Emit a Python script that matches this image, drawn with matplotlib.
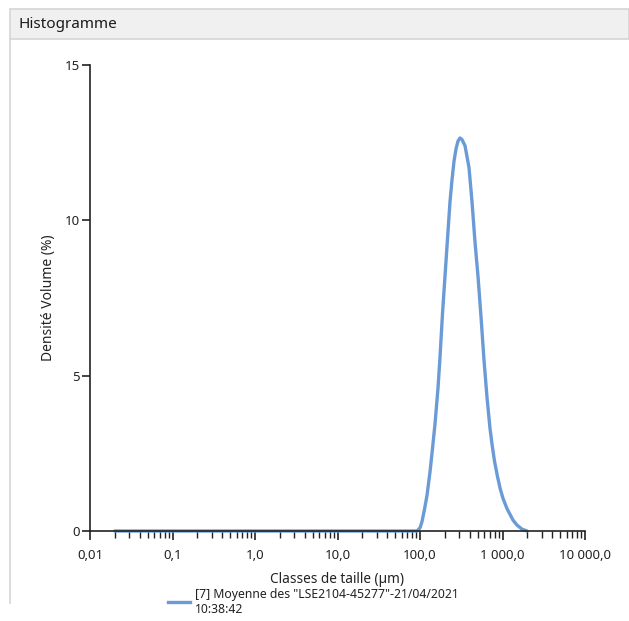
import matplotlib
matplotlib.use("Agg")
from matplotlib import pyplot as plt
from matplotlib.patches import Rectangle
from matplotlib.lines import Line2D
import numpy as np

plt.rcParams['font.family'] = ['Noto Sans', 'DejaVu Sans']

# size classes (um) and volume density (%)
sizes = [0.02, 0.05, 0.1, 0.5, 1.0, 5.0, 10.0, 50.0, 92.0, 100.0, 105.7, 113.4, 121.6,
         132.2, 139.8, 152.0, 165.3, 174.8, 187.4, 200.9, 215.4, 231.0, 244.3, 258.3,
         273.2, 288.8, 305.4, 322.9, 351.2, 392.6, 426.9, 464.2, 504.7, 548.8, 596.8,
         648.9, 705.6, 750.0, 800.0, 870.0, 940.0, 1014.0, 1134.0, 1341.0, 1499.0,
         1723.0, 1982.0]
density = [0, 0, 0, 0, 0, 0, 0, 0, 0.0, 0.1, 0.3, 0.7, 1.15,
           1.9, 2.5, 3.45, 4.6, 5.6, 7.0, 8.2, 9.4, 10.6, 11.3, 11.9,
           12.3, 12.55, 12.65, 12.6, 12.4, 11.7, 10.6, 9.3, 8.2, 6.9, 5.5,
           4.3, 3.3, 2.75, 2.25, 1.75, 1.35, 1.05, 0.72, 0.35, 0.19,
           0.06, 0.0]

xticks = [0.01, 0.1, 1.0, 10.0, 100.0, 1000.0, 10000.0]
xticklabels = ["0,01", "0,1", "1,0", "10,0", "100,0", "1 000,0", "10 000,0"]
yticks = [0, 5, 10, 15]

legend_label = '[7] Moyenne des "LSE2104-45277"-21/04/2021\n10:38:42'

W, H = 629, 621
fig = plt.figure(figsize=(W / 100, H / 100), dpi=100)

# panel header and border
fig.patches.append(Rectangle((10 / W, 1 - 39 / H), 1 - 10 / W, 30 / H, transform=fig.transFigure,
                             facecolor="#f0f0f0", edgecolor="#d6d6d6", lw=1.2))
fig.lines.append(Line2D([10 / W, 10 / W], [1 - 603 / H, 1 - 39 / H], transform=fig.transFigure,
                        color="#d6d6d6", lw=1.2))
fig.text(18 / W, 1 - 25 / H, "Histogramme", fontsize=11, va="center", ha="left", color="#1a1a1a")

ax = fig.add_axes([90 / W, 1 - 531 / H, 495 / W, 466 / H])
ax.plot(sizes, density, color="#6a9bd6", lw=2.4, solid_capstyle="round",
        solid_joinstyle="round", clip_on=False)
ax.set_xscale("log")
ax.set_xlim(0.01, 10000)
ax.set_ylim(0, 15)

ax.set_xticks(xticks)
ax.set_xticklabels(xticklabels)
minors = [m * 10.0 ** e for e in range(-2, 4) for m in range(2, 10)]
ax.set_xticks(minors, minor=True)
ax.set_yticks(yticks)

for s in ["top", "right"]:
    ax.spines[s].set_visible(False)
for s in ["left", "bottom"]:
    ax.spines[s].set_linewidth(1.2)
    ax.spines[s].set_color("#222222")

ax.tick_params(axis="x", which="major", direction="out", length=6.5, width=1.2, labelsize=9.5,
               colors="#222222", pad=6.5)
ax.tick_params(axis="x", which="minor", direction="out", length=5, width=1.0, colors="#222222")
ax.tick_params(axis="y", which="major", direction="out", length=5.5, width=1.2, labelsize=9.5,
               colors="#222222", pad=2)

ax.set_xlabel("Classes de taille (µm)", fontsize=9.8, labelpad=7, color="#222222")
ax.set_ylabel("Densité Volume (%)", fontsize=10, labelpad=6, color="#222222")

# legend below the axis title
fig.lines.append(Line2D([168 / W, 190 / W], [1 - 602 / H, 1 - 602 / H], transform=fig.transFigure,
                        color="#6a9bd6", lw=2.4))
fig.text(195 / W, 1 - 602 / H, legend_label, fontsize=8.8, va="center", ha="left",
         color="#222222", linespacing=1.2)

fig.savefig("out.png", dpi=100, facecolor="white")
